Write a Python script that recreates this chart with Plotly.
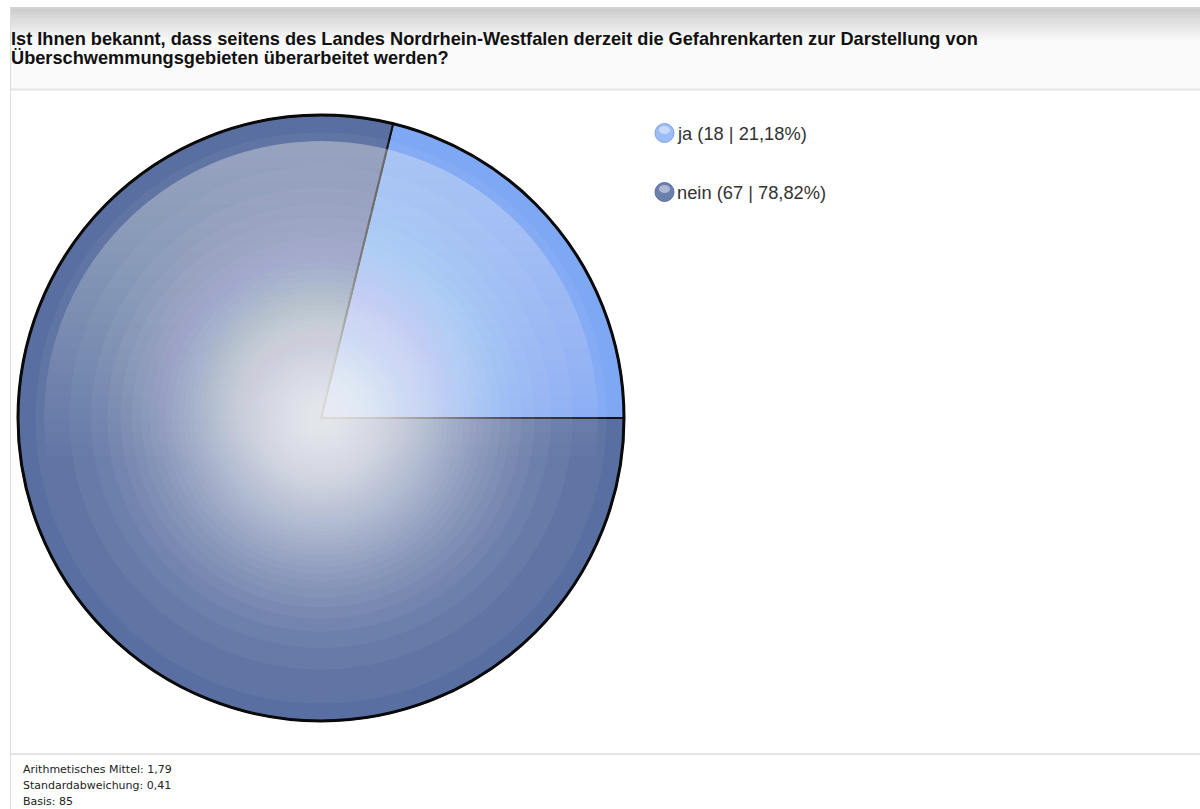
import math
import plotly.graph_objects as go

# Survey answers
answers = ["ja", "nein"]
counts = [18, 67]
shares = ["21,18%", "78,82%"]
slice_colors = ["#7fa8f4", "#5a6fa1"]
legend_colors = ["#9cbcf6", "#6c80b0"]

title_lines = [
    "Ist Ihnen bekannt, dass seitens des Landes Nordrhein-Westfalen derzeit die Gefahrenkarten zur Darstellung von",
    "Überschwemmungsgebieten überarbeitet werden?",
]
stats_lines = [
    "Arithmetisches Mittel: 1,79",
    "Standardabweichung: 0,41",
    "Basis: 85",
]

W, H = 1200, 809
CX, CY, R = 321, 418, 303  # pie centre and radius in pixels

fig = go.Figure()

# invisible helper trace so the pixel-mapped cartesian axes exist
fig.add_trace(go.Scatter(x=[None], y=[None], showlegend=False, hoverinfo="skip"))

# first slice ends exactly at 3 o'clock, sweeping clockwise from its start
first_share = counts[0] / sum(counts)
fig.add_trace(go.Pie(
    labels=answers,
    values=counts,
    sort=False,
    direction="clockwise",
    rotation=90 - 360 * first_share,
    textinfo="none",
    hoverinfo="label+value+percent",
    showlegend=False,
    marker=dict(colors=slice_colors, line=dict(color="#111111", width=2)),
    domain=dict(x=[(CX - R) / W, (CX + R) / W], y=[1 - (CY + R) / H, 1 - (CY - R) / H]),
))

shapes = []

# page frame: header band, separators, left border
shapes.append(dict(type="rect", x0=10, x1=W, y0=8, y1=89, fillcolor="#fafafa", line_width=0, layer="below"))
grad_top, grad_bot = 9, 42
steps = 16
for i in range(steps):
    t = i / (steps - 1)
    c = int(205 + (250 - 205) * t)
    y0 = grad_top + (grad_bot - grad_top) * i / steps
    y1 = grad_top + (grad_bot - grad_top) * (i + 1) / steps + 0.5
    shapes.append(dict(type="rect", x0=10, x1=W, y0=y0, y1=y1,
                       fillcolor=f"rgb({c},{c},{c})", line_width=0, layer="below"))
shapes.append(dict(type="line", x0=10, x1=W, y0=8, y1=8, line=dict(color="#c4c4c4", width=1.5), layer="below"))
shapes.append(dict(type="line", x0=10, x1=W, y0=89.5, y1=89.5, line=dict(color="#e4e4e4", width=2), layer="below"))
shapes.append(dict(type="line", x0=10, x1=W, y0=754, y1=754, line=dict(color="#e4e4e4", width=2), layer="below"))
shapes.append(dict(type="line", x0=10.5, x1=10.5, y0=8, y1=H, line=dict(color="#dddddd", width=1), layer="below"))

# radial white glow towards the pie centre (stacked translucent discs)
alpha = 0.045
w0, s = 0.9, 165.0
k = 1
while True:
    v = 1 - (1 - alpha) ** k
    if v >= w0:
        break
    r = min(s * math.sqrt(math.log(w0 / v)), R - 2)
    shapes.append(dict(type="circle", x0=CX - r, x1=CX + r, y0=CY - r, y1=CY + r,
                       fillcolor="white", opacity=alpha, line_width=0, layer="above"))
    k += 1

# glassy highlight on the upper part of the disc
R2 = R - 26
for yl in range(CY - 262, CY + 40, 12):
    dy = CY - yl
    th0 = math.asin(max(-1.0, min(1.0, dy / R2)))
    n = 60
    pts = []
    for j in range(n + 1):
        th = th0 + (math.pi - 2 * th0) * j / n
        pts.append((CX + R2 * math.cos(th), CY - R2 * math.sin(th)))
    path = "M " + " L ".join(f"{px:.1f},{py:.1f}" for px, py in pts) + " Z"
    shapes.append(dict(type="path", path=path, fillcolor="white", opacity=0.018,
                       line_width=0, layer="above"))

# outer rim
shapes.append(dict(type="circle", x0=CX - R, x1=CX + R, y0=CY - R, y1=CY + R,
                   line=dict(color="#0a0a0a", width=3), layer="above"))

# legend spheres
legend_y = [133, 192]
annotations = []
for lab, cnt, pct, col, ly in zip(answers, counts, shares, legend_colors, legend_y):
    shapes.append(dict(type="circle", x0=655, x1=674, y0=ly - 9.5, y1=ly + 9.5,
                       fillcolor=col, line=dict(color="#5a6f9f" if lab == "nein" else "#7fa3e6", width=1),
                       layer="above"))
    shapes.append(dict(type="circle", x0=659, x1=670, y0=ly - 7, y1=ly + 1,
                       fillcolor="white", opacity=0.45, line_width=0, layer="above"))
    annotations.append(dict(x=675, y=ly, xref="x", yref="y", xanchor="left", yanchor="middle",
                            text=f"{lab} ({cnt} | {pct})", showarrow=False,
                            font=dict(family="Liberation Sans, Arial", size=18.3, color="#333333")))

# title
for i, line in enumerate(title_lines):
    annotations.append(dict(x=9, y=39 + 18.5 * i, xref="x", yref="y", xanchor="left", yanchor="middle",
                            text=f"<b>{line}</b>", showarrow=False,
                            font=dict(family="Liberation Sans, Arial", size=18.2, color="#111111")))

# summary statistics
for i, line in enumerate(stats_lines):
    annotations.append(dict(x=21, y=769.5 + 16 * i, xref="x", yref="y", xanchor="left", yanchor="middle",
                            text=line, showarrow=False,
                            font=dict(family="DejaVu Sans", size=11, color="#222222")))

fig.update_layout(
    width=W, height=H,
    margin=dict(l=0, r=0, t=0, b=0),
    paper_bgcolor="white", plot_bgcolor="rgba(0,0,0,0)",
    xaxis=dict(range=[0, W], visible=False, fixedrange=True),
    yaxis=dict(range=[H, 0], visible=False, fixedrange=True),
    shapes=shapes, annotations=annotations,
    showlegend=False,
)

fig.write_html("out.html")
